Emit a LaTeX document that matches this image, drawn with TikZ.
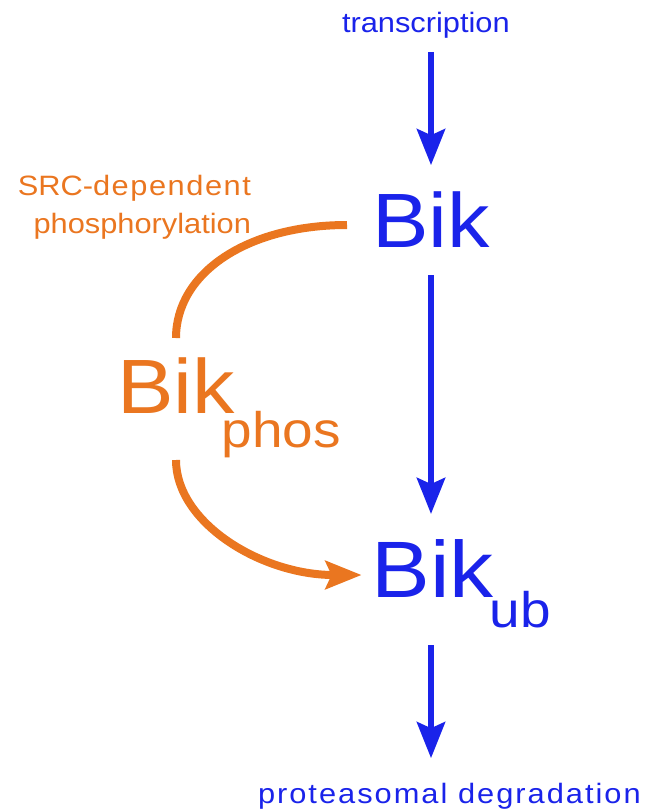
\documentclass[tikz,border=0pt]{standalone}
\usepackage{graphicx}
\usepackage{fontspec}
\setmainfont{Liberation Sans}
\usetikzlibrary{arrows.meta}
\definecolor{bikblue}{RGB}{26,35,234}
\definecolor{bikorange}{RGB}{234,118,32}
\newcommand\Fsize[1]{\fontsize{#1}{#1}\selectfont}
\newcommand\Wide[1]{\scalebox{1.1}[1]{#1}}

\begin{document}
\begin{tikzpicture}[x=1pt,y=-1pt,
    every node/.style={inner sep=0pt,outer sep=0pt,anchor=base west},
    flow/.style={line width=6.5pt,-{Stealth[length=36pt,width=28pt,inset=6pt]}},
    smalltext/.style={font=\fontsize{28}{38}\selectfont}]
    \useasboundingbox (0,0) rectangle (658,809);
    \coordinate (Column) at (431,0);
    \begin{scope}[color=bikblue] % main pathway
        \node[smalltext] (transcription) at (342,32) {\Wide{transcription}};
        \node[font=\Fsize{77}] (bik) at (372,247) {\Wide{Bik}};
        \node[font=\Fsize{80}] (bikub) at (371.6,597) {\Wide{Bik\kern-3.5pt\raisebox{-30pt}{\Fsize{50}ub}}};
        \node[smalltext] (degradation) at (258,803) {\Wide{\addfontfeature{LetterSpace=6.5}proteasomal degradation}};
        \draw[flow,shorten <=14pt,shorten >=26pt] (transcription.south -| Column) -- (bik.north -| Column);
        \draw[flow,shorten <=28pt,shorten >=25pt] (bik.south -| Column) -- (bikub.north -| Column);
        \draw[flow,shorten <=18pt,shorten >=24.5pt] (bikub.south -| Column) -- (degradation.north -| Column);
    \end{scope}
    \begin{scope}[color=bikorange] % phosphorylation branch
        \node[smalltext,align=right,anchor=base east] (src) at (251,233) {\Wide{SRC-{\addfontfeature{LetterSpace=5}dependent}}\\\Wide{phosphorylation}};
        \node[font=\Fsize{77}] (bikphos) at (117,413) {\Wide{Bik\kern-12pt\raisebox{-34pt}{\Fsize{50}phos}}};
        \draw[line width=8pt] ([shift={(-25,-22)}]bik.base west) .. controls +(-100,0) and +(0,-65) .. ([shift={(59,-75)}]bikphos.base west);
        \draw[flow,line width=8pt] ([shift={(59,47)}]bikphos.base west) .. controls +(0,63) and +(-100,0) .. ([shift={(-10,-22)}]bikub.base west);
    \end{scope}
\end{tikzpicture}
\end{document}
